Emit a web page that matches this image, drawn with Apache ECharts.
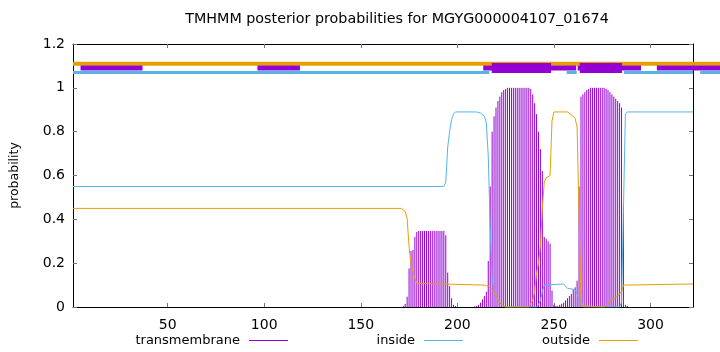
<!DOCTYPE html>
<html><head><meta charset="utf-8">
<script src="https://cdn.jsdelivr.net/npm/echarts@6/dist/echarts.min.js"></script>
<style>html,body{margin:0;padding:0;background:#fff}#c{width:720px;height:352px}</style>
</head><body><div id="c"></div>
<script>
const titleText = 'TMHMM posterior probabilities for MGYG000004107_01674';
const seqStart = 1;
const seqEnd = 322;
const xTicks = [50, 100, 150, 200, 250, 300];
const seriesNames = ['transmembrane', 'inside', 'outside'];

// transmembrane posterior per residue [residue, probability] (zero elsewhere)
const transmembrane = [
  [172,0.005],[173,0.014],[174,0.047],[175,0.176],[176,0.255],[177,0.26],[178,0.32],[179,0.342],
  [180,0.347],[181,0.347],[182,0.347],[183,0.347],[184,0.347],[185,0.347],[186,0.347],[187,0.347],
  [188,0.347],[189,0.347],[190,0.347],[191,0.347],[192,0.347],[193,0.347],[194,0.327],[195,0.157],
  [196,0.096],[197,0.04],[198,0.01],[199,0.005],
  [209,0.003],[210,0.005],[211,0.01],[212,0.02],[213,0.035],[214,0.05],[215,0.07],[216,0.21],
  [217,0.55],[218,0.8],[219,0.87],[220,0.91],[221,0.94],[222,0.96],[223,0.98],[224,0.99],
  [225,0.995],[226,1],[227,1],[228,1],[229,1],[230,1],[231,1],[232,1],[233,1],[234,1],[235,1],
  [236,1],[237,1],[238,0.995],[239,0.97],[240,0.93],[241,0.88],[242,0.8],[243,0.72],[244,0.62],
  [245,0.32],[246,0.31],[247,0.3],[248,0.29],[249,0.075],[250,0.01],[251,0.005],
  [252,0.005],[253,0.01],[254,0.015],[255,0.02],[256,0.03],[257,0.04],[258,0.05],[259,0.06],
  [260,0.08],[261,0.09],[262,0.12],[263,0.55],[264,0.96],[265,0.97],[266,0.98],[267,0.99],
  [268,0.995],[269,1],[270,1],[271,1],[272,1],[273,1],[274,1],[275,1],[276,1],[277,0.995],
  [278,0.99],[279,0.98],[280,0.97],[281,0.96],[282,0.95],[283,0.94],[284,0.93],[285,0.91],
  [286,0.47],[287,0.01],[288,0.005]
];

// inside posterior [residue, probability]
const inside = [
  [1,0.55],[193,0.55],[194,0.57],[195,0.73],[196,0.8],[197,0.855],[198,0.88],[199,0.89],
  [210,0.89],[212,0.885],[214,0.87],[215,0.84],[216,0.69],[217,0.36],[218,0.13],[219,0.07],
  [220,0.045],[221,0.03],[222,0.02],[223,0.01],[224,0.005],[225,0],[241,0],[242,0.01],
  [243,0.03],[244,0.07],[245,0.1],[246,0.105],[255,0.105],[256,0.1],[257,0.085],[261,0.08],
  [262,0.06],[263,0.03],[264,0.01],[265,0],[284,0],[285,0.02],[286,0.45],[287,0.88],
  [288,0.89],[322,0.89]
];

// outside posterior [residue, probability]
const outside = [
  [1,0.45],[171,0.45],[172,0.445],[173,0.436],[174,0.403],[175,0.274],[176,0.195],[177,0.19],
  [178,0.13],[179,0.108],[180,0.105],[214,0.1],[216,0.095],[218,0.08],[220,0.05],[221,0.035],
  [222,0.02],[223,0.01],[224,0.003],[225,0],[237,0],[238,0.005],[239,0.03],[240,0.07],
  [241,0.155],[242,0.2],[243,0.28],[244,0.45],[245,0.57],[246,0.59],[248,0.6],[249,0.85],
  [250,0.89],[257,0.89],[258,0.885],[260,0.87],[261,0.86],[262,0.82],[263,0.42],[264,0.03],
  [265,0.005],[266,0],[276,0],[277,0.01],[280,0.035],[283,0.05],[284,0.06],[285,0.07],
  [286,0.1],[287,0.105],[322,0.105]
];

// predicted topology bars above the plot: [startResidue, endResidue]
const topOutside = [[1,336]];
const topInside = [[1,216.5],[256.6,261.8],[286.3,322],[325.7,336]];
const topTMthin = [[4.9,37],[96.5,118.5],[213.4,261.5],[262.3,295.1],[303.3,336]];
const topTMhelix = [[217.8,248.5],[263.4,285.2]];
const levelOutside = 1.11, levelTM = 1.09, levelInside = 1.07;

const FONT = 'DejaVu Sans';
const C_TM = '#9400d3', C_IN = '#56b4e9', C_OUT = '#e69f00';

function segSeries(data, level, color, width, z) {
  return {
    type: 'custom', data: data, z: z, clip: false, silent: true,
    encode: { x: [0, 1] },
    renderItem: function (params, api) {
      const a = api.coord([api.value(0), level]);
      const b = api.coord([api.value(1), level]);
      return { type: 'line', shape: { x1: a[0], y1: a[1], x2: b[0], y2: b[1] },
        style: { stroke: color, lineWidth: width } };
    }
  };
}

const chart = echarts.init(document.getElementById('c'), null, { renderer: 'canvas' });
const tickStyle = { show: true, inside: true, length: 4, lineStyle: { color: '#777' } };
const axLine = { show: true, onZero: false, lineStyle: { color: '#000', width: 1 } };

chart.setOption({
  animation: false,
  backgroundColor: '#fff',
  title: { text: titleText, left: 397, top: 12, textAlign: 'center', padding: 0,
    textStyle: { fontFamily: FONT, fontSize: 14.3, fontWeight: 'normal', color: '#000' } },
  grid: { left: 73, right: 27, top: 44, bottom: 45, containLabel: false },
  xAxis: [
    { type: 'value', position: 'bottom', min: seqStart, max: seqEnd, axisLine: axLine,
      axisTick: Object.assign({ customValues: xTicks }, tickStyle),
      axisLabel: { customValues: xTicks, color: '#000', fontSize: 14, fontFamily: FONT, margin: 11 },
      splitLine: { show: false } },
    { type: 'value', position: 'top', min: seqStart, max: seqEnd, axisLine: axLine,
      axisTick: Object.assign({ customValues: xTicks }, tickStyle),
      axisLabel: { show: false }, splitLine: { show: false } }
  ],
  yAxis: [
    { type: 'value', min: 0, max: 1.2, interval: 0.2, axisLine: axLine, axisTick: tickStyle,
      axisLabel: { color: '#000', fontSize: 14, fontFamily: FONT, margin: 8 },
      splitLine: { show: false },
      name: 'probability', nameLocation: 'middle', nameGap: 52,
      nameTextStyle: { fontFamily: FONT, fontSize: 12.5, color: '#000' } },
    { type: 'value', position: 'right', min: 0, max: 1.2, interval: 0.2, axisLine: axLine,
      axisTick: tickStyle, axisLabel: { show: false }, splitLine: { show: false } }
  ],
  legend: [
    { data: [{ name: seriesNames[0], itemStyle: { color: C_TM } }], right: 432 },
    { data: [{ name: seriesNames[1], itemStyle: { color: C_IN } }], right: 257 },
    { data: [{ name: seriesNames[2], itemStyle: { color: C_OUT } }], right: 82 }
  ].map(l => Object.assign({ top: 334, align: 'right', icon: 'rect', itemWidth: 39, itemHeight: 1,
      selectedMode: false, padding: 0,
      textStyle: { fontFamily: FONT, fontSize: 13, color: '#000', padding: [0, 4, 0, 0] } }, l)),
  series: [
    {
      name: seriesNames[0], type: 'custom', data: transmembrane, z: 2, clip: true,
      itemStyle: { color: C_TM }, encode: { x: 0, y: 1 },
      renderItem: function (params, api) {
        const a = api.coord([api.value(0), 0]);
        const b = api.coord([api.value(0), api.value(1)]);
        return { type: 'line', shape: { x1: a[0], y1: a[1], x2: b[0], y2: b[1] },
          style: { stroke: C_TM, lineWidth: 1 } };
      }
    },
    { name: seriesNames[1], type: 'line', data: inside, z: 3, showSymbol: false, symbol: 'none',
      itemStyle: { color: C_IN }, lineStyle: { color: C_IN, width: 1 } },
    { name: seriesNames[2], type: 'line', data: outside, z: 4, showSymbol: false, symbol: 'none',
      itemStyle: { color: C_OUT }, lineStyle: { color: C_OUT, width: 1 } },
    segSeries(topOutside, levelOutside, C_OUT, 4, 5),
    segSeries(topInside, levelInside, C_IN, 3, 6),
    segSeries(topTMthin, levelTM, C_TM, 5, 7),
    segSeries(topTMhelix, levelTM, C_TM, 10, 8)
  ]
});
</script></body></html>
